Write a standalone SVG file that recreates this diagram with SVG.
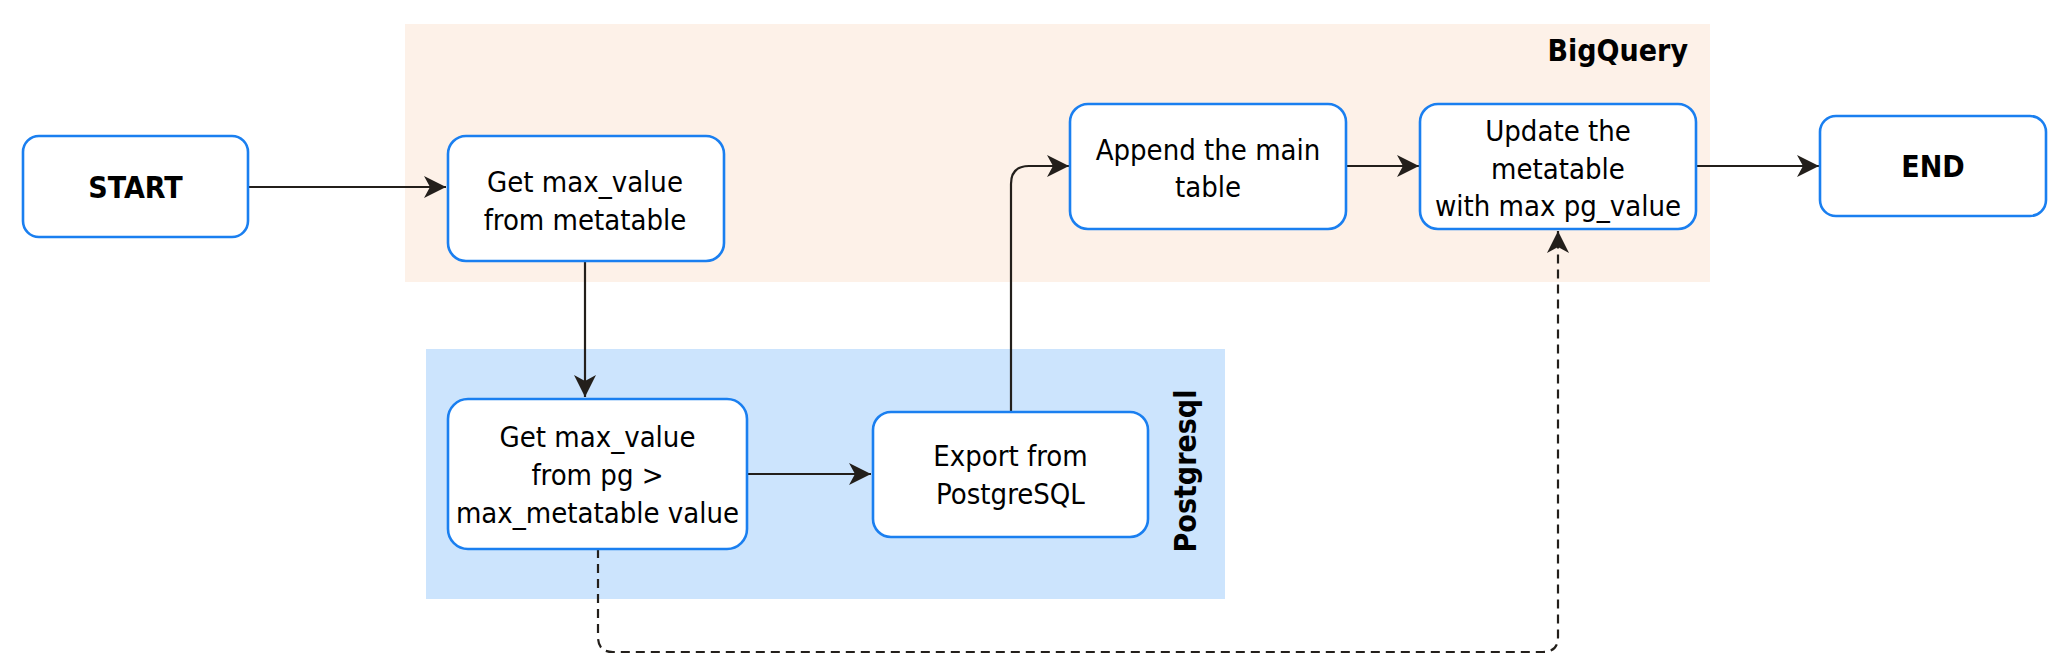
<svg xmlns="http://www.w3.org/2000/svg" width="2052" height="662" viewBox="0 0 2052 662">
<style>
.node rect{fill:#ffffff;stroke:#1a7ff0;stroke-width:2.6}
.t{font-family:"DejaVu Sans Condensed","DejaVu Sans",Verdana,sans-serif;font-stretch:condensed;font-size:29px;fill:#000;text-anchor:middle}
.b{font-weight:bold;font-size:30px}
.c{fill:none;stroke:#231f1b;stroke-width:2.2}
.d{stroke-dasharray:9 6}
</style>
<defs>
<marker id="ah" markerUnits="userSpaceOnUse" markerWidth="24" markerHeight="24" refX="22" refY="11" orient="auto">
<path d="M0,0 L22,11 L0,22 L6,11 Z" fill="#231f1b"/>
</marker>
</defs>
<rect width="2052" height="662" fill="#ffffff"/>
<g id="bigquery">
<rect x="405" y="24" width="1305" height="258" fill="#fdf1e8"/>
<text class="t b" x="1688" y="61" style="text-anchor:end">BigQuery</text>
</g>
<g id="postgresql">
<rect x="426" y="349" width="799" height="250" fill="#cce4fd"/>
<text class="t b" transform="translate(1196,471) rotate(-90)" x="0" y="0">Postgresql</text>
</g>
<g id="connectors">
<path class="c" d="M248,187 H446" marker-end="url(#ah)"/>
<path class="c" d="M585,262 V397" marker-end="url(#ah)"/>
<path class="c" d="M748,474 H871" marker-end="url(#ah)"/>
<path class="c" d="M1011,412 V184 Q1011,166 1029,166 H1069" marker-end="url(#ah)"/>
<path class="c" d="M1346,166 H1419" marker-end="url(#ah)"/>
<path class="c" d="M1696,166 H1819" marker-end="url(#ah)"/>
<path class="c d" d="M598,549 V637 Q598,652 613,652 H1543 Q1558,652 1558,637 V231" marker-end="url(#ah)"/>
</g>
<g id="start" class="node">
<rect x="23" y="136" width="225" height="101" rx="16"/>
<text class="t b" x="135.5" y="198">START</text>
</g>
<g id="get-metatable" class="node">
<rect x="448" y="136" width="276" height="125" rx="18"/>
<text class="t" x="585" y="192">Get max_value</text>
<text class="t" x="585" y="230">from metatable</text>
</g>
<g id="get-pg" class="node">
<rect x="448" y="399" width="299" height="150" rx="20"/>
<text class="t" x="597.5" y="447">Get max_value</text>
<text class="t" x="597.5" y="485">from pg &gt;</text>
<text class="t" x="597.5" y="523">max_metatable value</text>
</g>
<g id="export" class="node">
<rect x="873" y="412" width="275" height="125" rx="18"/>
<text class="t" x="1010.5" y="466">Export from</text>
<text class="t" x="1010.5" y="504">PostgreSQL</text>
</g>
<g id="append" class="node">
<rect x="1070" y="104" width="276" height="125" rx="18"/>
<text class="t" x="1208" y="160">Append the main</text>
<text class="t" x="1208" y="197">table</text>
</g>
<g id="update" class="node">
<rect x="1420" y="104" width="276" height="125" rx="18"/>
<text class="t" x="1558" y="141">Update the</text>
<text class="t" x="1558" y="178.5">metatable</text>
<text class="t" x="1558" y="216">with max pg_value</text>
</g>
<g id="end" class="node">
<rect x="1820" y="116" width="226" height="100" rx="16"/>
<text class="t b" x="1933" y="177">END</text>
</g>
</svg>
